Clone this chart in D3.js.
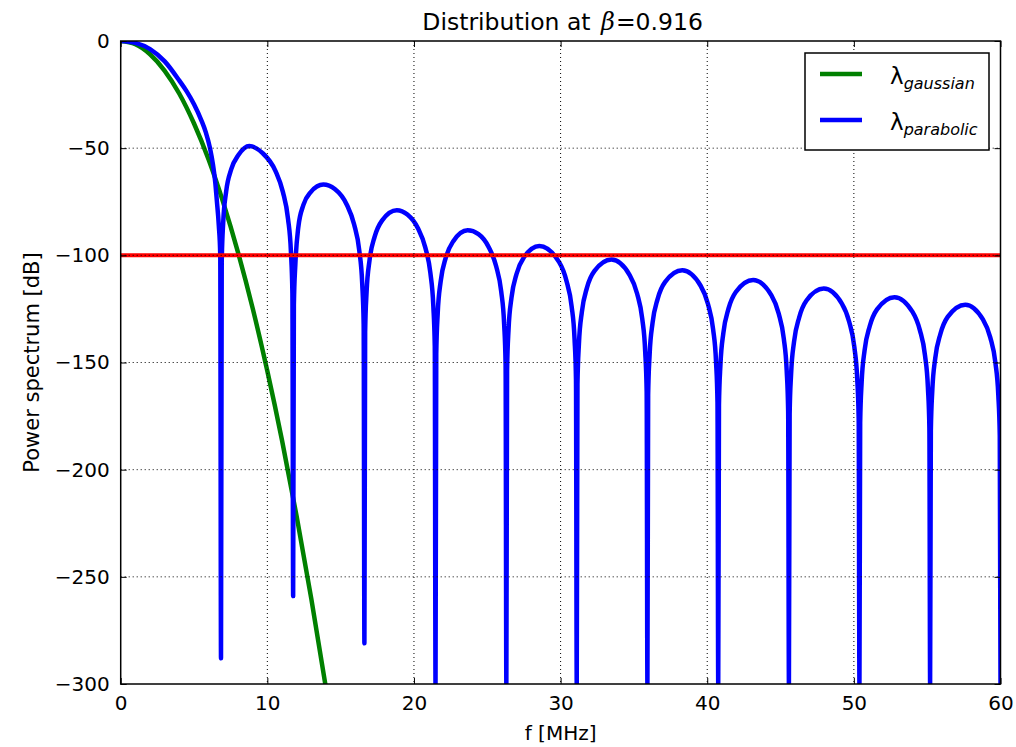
<!DOCTYPE html>
<html>
<head>
<meta charset="utf-8">
<script src="https://cdn.jsdelivr.net/npm/d3@7"></script>
<style>
  body { margin: 0; background: #fff; }
  text { font-family: "DejaVu Sans", sans-serif; fill: #000; }
</style>
</head>
<body>
<svg id="chart" width="1016" height="747"></svg>
<script>
// ---- data ----
const xTicks = [0, 10, 20, 30, 40, 50, 60]
const yTicks = [0, -50, -100, -150, -200, -250, -300]
const thresholdDb = -100

const gaussF = [0, 1, 2, 3, 4, 5, 6, 7, 8, 9, 10, 11, 12, 13, 14]
const gaussDb = [0, -1.5, -6.2, -13.9, -24.6, -38.5, -55.4, -75.5, -98.6, -124.7, -154, -186.3, -221.8, -260.3, -302]

// parabolic spectrum, sampled lobe by lobe (notch points included)
const paraF = [
  0, 1, 2, 3, 4, 4.5, 5, 5.5, 5.8, 6.09, 6.3, 6.45, 6.55, 6.69, 6.79,
  6.84,
  6.89, 6.99, 7.19, 7.54, 8.04, 8.77, 9.66, 10.56, 11.06, 11.41, 11.61, 11.71,
  11.76,
  11.81, 11.91, 12.11, 12.46, 12.96, 13.82, 14.6, 15.42, 15.92, 16.27, 16.47, 16.57,
  16.62,
  16.67, 16.77, 16.97, 17.32, 17.82, 18.83, 19.55, 20.27, 20.77, 21.12, 21.32, 21.42,
  21.47,
  21.52, 21.62, 21.82, 22.17, 22.67, 23.66, 24.4, 25.1, 25.6, 25.95, 26.15, 26.25,
  26.3,
  26.35, 26.45, 26.65, 27.0, 27.5, 28.55, 29.9, 30.4, 30.75, 30.95, 31.05,
  31.1,
  31.15, 31.25, 31.45, 31.8, 32.3, 33.47, 34.72, 35.22, 35.57, 35.77, 35.87,
  35.92,
  35.97, 36.07, 36.27, 36.62, 37.12, 38.3, 39.55, 40.05, 40.4, 40.6, 40.7,
  40.75,
  40.8, 40.9, 41.1, 41.45, 41.95, 43.13, 44.37, 44.87, 45.22, 45.42, 45.52,
  45.57,
  45.62, 45.72, 45.92, 46.27, 46.77, 47.95, 49.18, 49.68, 50.03, 50.23, 50.33,
  50.38,
  50.43, 50.53, 50.73, 51.08, 51.58, 52.77, 54.0, 54.5, 54.85, 55.05, 55.15,
  55.2,
  55.25, 55.35, 55.55, 55.9, 56.4, 57.6, 58.8, 59.3, 59.65, 59.85, 59.95,
  60
]
const paraDb = [
  0, -0.9, -3.8, -9.5, -18.5, -23.5, -29.5, -37, -42.5, -50, -58, -66, -74, -86, -100,
  -288,
  -103.4, -84.7, -70.3, -59.8, -53.1, -49, -52.2, -60.7, -70.4, -82.9, -98.5, -117.8,
  -259,
  -123.1, -104.3, -87, -76.5, -70.5, -67, -69.1, -76.4, -85.6, -97.7, -113.1, -132.3,
  -281,
  -135.9, -117, -102.3, -91.3, -83.8, -79, -81, -87.4, -96.3, -108.3, -123.6, -142.7,
  -300,
  -145.9, -127, -112.2, -101.1, -93.5, -88.3, -90.1, -96.2, -105, -116.9, -132.1, -151.3,
  -300,
  -153.5, -134.6, -119.8, -108.6, -100.9, -95.6, -103.2, -111.9, -123.7, -138.9, -158,
  -300,
  -160.1, -141.2, -126.4, -115.1, -107.4, -102, -109.3, -117.9, -129.7, -144.9, -163.9,
  -300,
  -165.3, -146.4, -131.6, -120.3, -112.5, -107, -114.2, -122.7, -134.5, -149.6, -168.7,
  -300,
  -170, -151.1, -136.2, -124.9, -117.1, -111.5, -118.6, -127.1, -138.8, -153.9, -173,
  -300,
  -174.2, -155.2, -140.3, -129, -121.1, -115.5, -122.5, -131, -142.7, -157.8, -176.9,
  -300,
  -178.3, -159.3, -144.4, -133.1, -125.2, -119.5, -126.4, -134.9, -146.6, -161.7, -180.7,
  -300,
  -181.9, -162.9, -148, -136.7, -128.7, -123, -129.9, -138.3, -150, -165.1, -184.1,
  -300
]

const seriesNames = ['gaussian', 'parabolic']
const seriesColors = ['#008000', '#0000ff']

// ---- layout ----
const margin = { left: 120.7, top: 41, right: 15.5, bottom: 63 }
const W = 1016, H = 747
const pw = W - margin.left - margin.right
const ph = H - margin.top - margin.bottom

const svg = d3.select('#chart')
svg.append('rect').attr('width', W).attr('height', H).attr('fill', '#fff')

const x = d3.scaleLinear().domain([0, 60]).range([0, pw])
const y = d3.scaleLinear().domain([-300, 0]).range([ph, 0])

const defs = svg.append('defs')
defs.append('clipPath').attr('id', 'plotClip')
  .append('rect').attr('width', pw).attr('height', ph)

const g = svg.append('g').attr('transform', `translate(${margin.left},${margin.top})`)

const plot = g.append('g').attr('clip-path', 'url(#plotClip)')

const line = d3.line()
  .x(d => x(d[0]))
  .y(d => y(d[1]))
  .curve(d3.curveMonotoneX)

const gaussData = gaussF.map((f, i) => [f, gaussDb[i]])
const paraData = paraF.map((f, i) => [f, paraDb[i]])

plot.append('path')
  .attr('d', line(gaussData))
  .attr('fill', 'none')
  .attr('stroke', seriesColors[0])
  .attr('stroke-width', 4.5)
  .attr('stroke-linejoin', 'round')

plot.append('path')
  .attr('d', line(paraData))
  .attr('fill', 'none')
  .attr('stroke', seriesColors[1])
  .attr('stroke-width', 4.5)
  .attr('stroke-linejoin', 'round')

// threshold line
plot.append('line')
  .attr('x1', x(0)).attr('x2', x(60))
  .attr('y1', y(thresholdDb)).attr('y2', y(thresholdDb))
  .attr('stroke', '#ff0000')
  .attr('stroke-width', 4)

// grid on top (classic style)
const grid = g.append('g')
grid.selectAll('.gx')
  .data(xTicks.slice(1, -1))
  .enter().append('line')
  .attr('x1', d => x(d)).attr('x2', d => x(d))
  .attr('y1', 0).attr('y2', ph)
  .attr('stroke', '#000').attr('stroke-width', 1)
  .attr('stroke-dasharray', '1,3')
grid.selectAll('.gy')
  .data(yTicks.slice(1, -1))
  .enter().append('line')
  .attr('x1', 0).attr('x2', pw)
  .attr('y1', d => y(d)).attr('y2', d => y(d))
  .attr('stroke', '#000').attr('stroke-width', 1)
  .attr('stroke-dasharray', '1,3')

// axes with inward ticks on all sides
const fmt = d => d3.format('d')(d).replace('-', '\u2212')
const tickLen = 6

const xAxis = g.append('g').attr('transform', `translate(0,${ph})`)
  .call(d3.axisBottom(x).tickValues(xTicks).tickFormat(fmt).tickSizeInner(-tickLen).tickSizeOuter(0).tickPadding(12))
const xAxisTop = g.append('g')
  .call(d3.axisTop(x).tickValues(xTicks).tickFormat('').tickSizeInner(-tickLen).tickSizeOuter(0))
const yAxis = g.append('g')
  .call(d3.axisLeft(y).tickValues(yTicks).tickFormat(fmt).tickSizeInner(-tickLen).tickSizeOuter(0).tickPadding(11))
const yAxisRight = g.append('g').attr('transform', `translate(${pw},0)`)
  .call(d3.axisRight(y).tickValues(yTicks).tickFormat('').tickSizeInner(-tickLen).tickSizeOuter(0))

;[xAxis, xAxisTop, yAxis, yAxisRight].forEach(a => {
  a.select('.domain').remove()
  a.selectAll('.tick line').attr('stroke', '#000').attr('stroke-width', 1)
  a.selectAll('.tick text')
    .attr('font-family', '"DejaVu Sans", sans-serif')
    .attr('font-size', 20)
    .attr('fill', '#000')
})

// frame
g.append('rect')
  .attr('width', pw).attr('height', ph)
  .attr('fill', 'none').attr('stroke', '#000').attr('stroke-width', 1.5)

// title
const title = svg.append('text')
  .attr('x', margin.left + pw / 2 + 2).attr('y', 30)
  .attr('text-anchor', 'middle')
  .attr('font-size', 23.5)
title.append('tspan').text('Distribution at ')
title.append('tspan')
  .attr('font-family', '"DejaVu Serif", serif')
  .attr('font-style', 'italic')
  .attr('font-size', 24)
  .attr('dx', 3)
  .text('\u03b2')
title.append('tspan').attr('dx', 1).text('=0.916')

// axis labels
svg.append('text')
  .attr('x', margin.left + pw / 2).attr('y', 740)
  .attr('text-anchor', 'middle')
  .attr('font-size', 20)
  .text('f [MHz]')

svg.append('text')
  .attr('transform', `translate(39,${margin.top + ph / 2}) rotate(-90)`)
  .attr('text-anchor', 'middle')
  .attr('font-size', 21)
  .text('Power spectrum [dB]')

// legend
const legend = svg.append('g').attr('transform', 'translate(805,53)')
legend.append('rect')
  .attr('width', 184).attr('height', 97)
  .attr('fill', '#fff').attr('stroke', '#000').attr('stroke-width', 1.5)

const items = legend.selectAll('.item')
  .data(seriesNames)
  .enter().append('g')
  .attr('transform', (d, i) => `translate(0,${21 + i * 46})`)

items.append('line')
  .attr('x1', 15).attr('x2', 57)
  .attr('stroke', (d, i) => seriesColors[i])
  .attr('stroke-width', 4.5)

const lab = items.append('text')
  .attr('x', 85).attr('y', 10)
  .attr('font-family', '"DejaVu Serif", serif')
lab.append('tspan').attr('font-size', 23).text('\u03bb')
lab.append('tspan')
  .attr('font-size', 16)
  .attr('font-style', 'italic')
  .attr('dy', 5)
  .text(d => d)
</script>
</body>
</html>
